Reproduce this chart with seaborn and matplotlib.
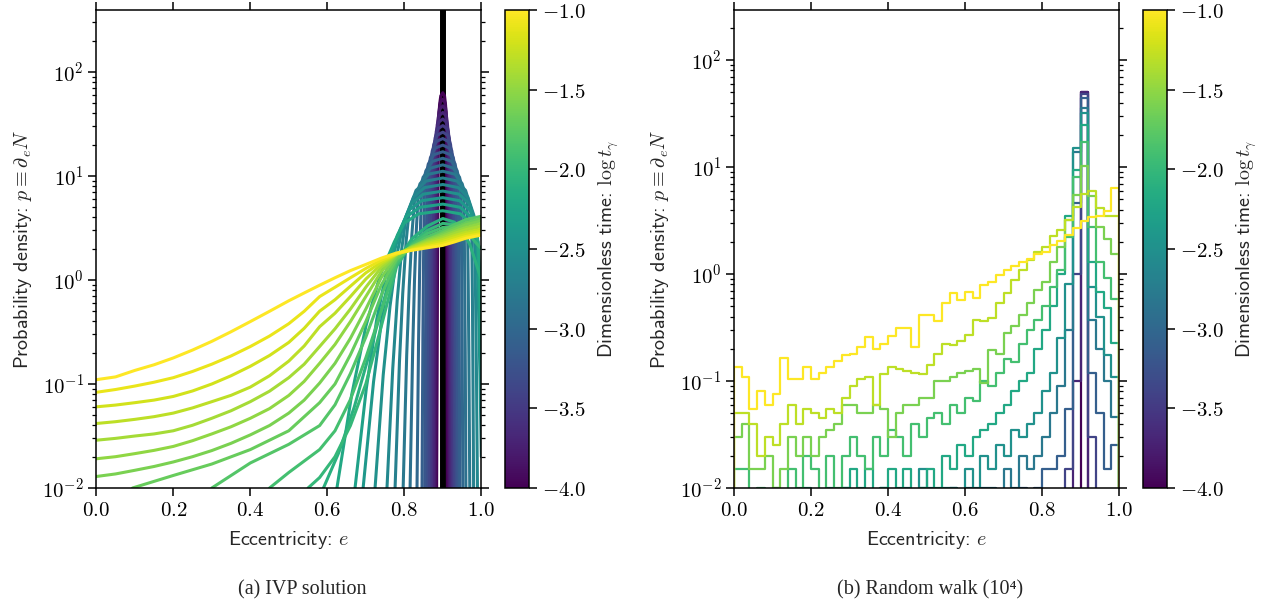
import numpy as np
import pandas as pd
import matplotlib
matplotlib.use("Agg")
import matplotlib.pyplot as plt
import seaborn as sns
from matplotlib.ticker import FuncFormatter, LogLocator, NullFormatter, FixedLocator, NullLocator
from matplotlib.colors import Normalize
from matplotlib.cm import ScalarMappable

# ---------------- data: (a) IVP solution, one curve per log t ----------------
IVP_LOGT = [-4.0, -3.9, -3.8, -3.7, -3.6, -3.5, -3.4, -3.3, -3.2, -3.1,
            -3.0, -2.9, -2.8, -2.7, -2.6, -2.5, -2.4, -2.3, -2.2, -2.1,
            -2.0, -1.9, -1.8, -1.7, -1.6, -1.5, -1.4, -1.3, -1.2, -1.1, -1.0]

LATE_E = [0.0, 0.05, 0.1, 0.15, 0.2, 0.25, 0.3, 0.35, 0.4, 0.45, 0.5, 0.54, 0.58, 0.62,
          0.66, 0.70, 0.74, 0.78, 0.82, 0.86, 0.9, 0.93, 0.96, 1.0]

IVP_E = [
    [0.884, 0.8862, 0.8873, 0.8883, 0.8894, 0.8915, 0.8947, 0.9, 0.9045, 0.9072, 0.909, 0.9096, 0.9102, 0.9108, 0.912],
    [0.881, 0.8835, 0.8847, 0.886, 0.8872, 0.8898, 0.8936, 0.9, 0.9055, 0.9087, 0.9109, 0.9117, 0.9125, 0.9133, 0.915],
    [0.878, 0.8807, 0.8821, 0.8834, 0.8848, 0.8878, 0.8924, 0.9, 0.9065, 0.9103, 0.9129, 0.9139, 0.915, 0.916, 0.918],
    [0.875, 0.8777, 0.8791, 0.8805, 0.8819, 0.8855, 0.891, 0.9, 0.9077, 0.9123, 0.9154, 0.9165, 0.9177, 0.9188, 0.921],
    [0.871, 0.8739, 0.8755, 0.8771, 0.8787, 0.883, 0.8894, 0.9, 0.9091, 0.9145, 0.9181, 0.9193, 0.9205, 0.9217, 0.924],
    [0.867, 0.87, 0.8716, 0.8733, 0.8749, 0.8799, 0.8875, 0.9, 0.9107, 0.917, 0.9213, 0.9225, 0.9237, 0.9249, 0.927],
    [0.863, 0.8657, 0.8673, 0.8688, 0.8704, 0.8763, 0.8852, 0.9, 0.9126, 0.9202, 0.9252, 0.9264, 0.9277, 0.9289, 0.931],
    [0.858, 0.8607, 0.8623, 0.864, 0.8656, 0.8725, 0.8828, 0.9, 0.9146, 0.9234, 0.9292, 0.9304, 0.9317, 0.9329, 0.935],
    [0.853, 0.8553, 0.8568, 0.8582, 0.8597, 0.8678, 0.8799, 0.9, 0.9172, 0.9274, 0.9343, 0.9353, 0.9363, 0.9373, 0.939],
    [0.846, 0.8483, 0.8498, 0.8513, 0.8528, 0.8622, 0.8764, 0.9, 0.92, 0.9321, 0.9401, 0.941, 0.9418, 0.9427, 0.944],
    [0.833, 0.837, 0.8397, 0.8423, 0.845, 0.856, 0.8725, 0.9, 0.9234, 0.9374, 0.9468, 0.948, 0.9491, 0.9503, 0.952],
    [0.815, 0.8218, 0.8265, 0.8313, 0.836, 0.8488, 0.868, 0.9, 0.9272, 0.9435, 0.9544, 0.9557, 0.9569, 0.9582, 0.96],
    [0.797, 0.8062, 0.8128, 0.8194, 0.826, 0.8408, 0.863, 0.9, 0.9315, 0.9503, 0.9629, 0.9645, 0.9661, 0.9677, 0.97],
    [0.776, 0.7874, 0.7959, 0.8045, 0.813, 0.8304, 0.8565, 0.9, 0.937, 0.9592, 0.974, 0.9754, 0.9768, 0.9781, 0.98],
    [0.755, 0.77, 0.7816, 0.7933, 0.805, 0.824, 0.8525, 0.9, 0.9405, 0.9648, 0.981, 0.9831, 0.9852, 0.9873, 0.99],
    [0.724, 0.7452, 0.7628, 0.7804, 0.798, 0.8184, 0.849, 0.9, 0.9425, 0.968, 0.985, 0.9888, 0.9927, 0.9965, 1.0],
    [0.693, 0.7201, 0.7434, 0.7667, 0.79, 0.812, 0.845, 0.9, 0.944, 0.9704, 0.988, 0.9916, 0.9951, 0.9987, 1.0],
    [0.672, 0.7014, 0.7283, 0.7552, 0.782, 0.8056, 0.841, 0.9, 0.945, 0.972, 0.99, 0.9938, 0.9975, 1.0],
    [0.625, 0.6633, 0.7002, 0.7371, 0.774, 0.7992, 0.837, 0.9, 0.946, 0.9736, 0.992, 0.996, 1.0],
    [0.59, 0.63, 0.67, 0.71, 0.75, 0.78, 0.82, 0.86, 0.9, 0.93, 0.95, 0.97, 0.985, 1.0],
    [0.55, 0.58, 0.62, 0.66, 0.70, 0.74, 0.78, 0.82, 0.86, 0.9, 0.93, 0.95, 0.97, 0.985, 1.0],
    [0.45, 0.5, 0.58, 0.62, 0.66, 0.70, 0.74, 0.78, 0.82, 0.86, 0.9, 0.93, 0.95, 0.97, 0.985, 1.0],
    [0.30, 0.4, 0.5, 0.58, 0.62, 0.66, 0.70, 0.74, 0.78, 0.82, 0.86, 0.9, 0.93, 0.96, 1.0],
    [0.094, 0.2, 0.3, 0.4, 0.5, 0.58, 0.62, 0.66, 0.70, 0.74, 0.78, 0.82, 0.86, 0.9, 0.93, 0.96, 1.0],
    LATE_E, LATE_E, LATE_E, LATE_E, LATE_E, LATE_E, LATE_E,
]

IVP_P = [
    [0.01, 1.07, 4.90, 15.1, 31.6, 47.9, 58.9, 63.1, 58.9, 47.9, 31.6, 15.1, 4.90, 1.07, 0.01],
    [0.01, 0.928, 4.24, 13.1, 27.4, 41.4, 50.9, 54.6, 50.9, 41.4, 27.4, 13.1, 4.24, 0.928, 0.01],
    [0.01, 0.802, 3.66, 11.3, 23.6, 35.8, 44.0, 47.2, 44.0, 35.8, 23.6, 11.3, 3.66, 0.802, 0.01],
    [0.01, 0.694, 3.17, 9.79, 20.4, 31.0, 38.1, 40.8, 38.1, 31.0, 20.4, 9.79, 3.17, 0.694, 0.01],
    [0.01, 0.600, 2.74, 8.47, 17.7, 26.8, 32.9, 35.3, 32.9, 26.8, 17.7, 8.47, 2.74, 0.600, 0.01],
    [0.01, 0.519, 2.37, 7.32, 15.3, 23.1, 28.5, 30.5, 28.5, 23.1, 15.3, 7.32, 2.37, 0.519, 0.01],
    [0.01, 0.449, 2.05, 6.34, 13.2, 20.0, 24.6, 26.4, 24.6, 20.0, 13.2, 6.34, 2.05, 0.449, 0.01],
    [0.01, 0.389, 1.78, 5.50, 11.5, 17.4, 21.4, 22.9, 21.4, 17.4, 11.5, 5.50, 1.78, 0.389, 0.01],
    [0.01, 0.337, 1.54, 4.75, 9.92, 15.0, 18.5, 19.8, 18.5, 15.0, 9.92, 4.75, 1.54, 0.337, 0.01],
    [0.01, 0.291, 1.33, 4.10, 8.57, 13.0, 16.0, 17.1, 16.0, 13.0, 8.57, 4.10, 1.33, 0.291, 0.01],
    [0.01, 0.252, 1.15, 3.55, 7.41, 11.2, 13.8, 14.8, 13.8, 11.2, 7.41, 3.55, 1.15, 0.252, 0.01],
    [0.01, 0.218, 0.993, 3.07, 6.41, 9.72, 11.9, 12.8, 11.9, 9.72, 6.41, 3.07, 0.993, 0.218, 0.01],
    [0.01, 0.189, 0.861, 2.66, 5.56, 8.42, 10.4, 11.1, 10.4, 8.42, 5.56, 2.66, 0.861, 0.189, 0.01],
    [0.01, 0.163, 0.743, 2.30, 4.79, 7.26, 8.93, 9.57, 8.93, 7.26, 4.79, 2.30, 0.743, 0.163, 0.01],
    [0.01, 0.141, 0.643, 1.99, 4.15, 6.28, 7.73, 8.28, 7.73, 6.28, 4.15, 1.99, 0.643, 0.141, 0.01],
    [0.01, 0.122, 0.556, 1.72, 3.59, 5.43, 6.68, 7.16, 6.68, 5.43, 3.59, 1.72, 0.556, 0.122, 0.02],
    [0.01, 0.105, 0.480, 1.49, 3.10, 4.70, 5.78, 6.19, 5.78, 4.70, 3.10, 1.49, 0.480, 0.105, 0.06],
    [0.01, 0.0911, 0.416, 1.29, 2.69, 4.07, 5.00, 5.36, 5.00, 4.07, 2.69, 1.29, 0.416, 0.15],
    [0.01, 0.0787, 0.359, 1.11, 2.32, 3.51, 4.32, 4.63, 4.32, 3.51, 2.32, 1.11, 0.35],
    [0.01, 0.022, 0.06, 0.2, 0.7, 1.5, 2.5, 3.3, 3.9, 3.6, 3.0, 2.2, 1.5, 1.0],
    [0.01, 0.0126, 0.02, 0.0398, 0.1, 0.355, 1.35, 2.3, 3.0, 3.5, 3.4, 3.1, 2.7, 2.3, 2.0],
    [0.01, 0.0141, 0.0234, 0.0355, 0.0708, 0.178, 0.501, 1.45, 2.2, 2.8, 3.2, 3.25, 3.2, 3.1, 3.05, 3.0],
    [0.01, 0.0174, 0.0263, 0.0398, 0.0631, 0.126, 0.282, 0.708, 1.55, 2.15, 2.6, 3.0, 3.4, 3.8, 4.1],
    [0.01, 0.0132, 0.017, 0.0234, 0.0355, 0.0661, 0.1, 0.191, 0.398, 0.891, 1.6, 2.05, 2.45, 2.85, 3.2, 3.55, 3.9],
    [0.0129, 0.01365, 0.0148, 0.0161, 0.0178, 0.020, 0.0229, 0.0269, 0.0324, 0.0399, 0.0525, 0.070,
     0.102, 0.158, 0.275, 0.525, 1.05, 1.70, 2.10, 2.45, 2.75, 3.05, 3.40, 3.70],
    [0.0191, 0.020, 0.0214, 0.023, 0.0251, 0.0285, 0.0331, 0.0388, 0.0468, 0.058, 0.0776, 0.106,
     0.158, 0.240, 0.398, 0.692, 1.20, 1.75, 2.08, 2.38, 2.65, 2.92, 3.20, 3.50],
    [0.0288, 0.030, 0.0316, 0.0331, 0.0355, 0.0401, 0.0468, 0.0553, 0.0676, 0.0853, 0.115, 0.155,
     0.229, 0.339, 0.525, 0.851, 1.32, 1.77, 2.05, 2.32, 2.55, 2.80, 3.05, 3.30],
    [0.0417, 0.0434, 0.0457, 0.0485, 0.0525, 0.0589, 0.0676, 0.0778, 0.0933, 0.120, 0.166, 0.232,
     0.355, 0.479, 0.692, 1.02, 1.41, 1.78, 2.02, 2.25, 2.45, 2.67, 2.88, 3.10],
    [0.0603, 0.0627, 0.0661, 0.070, 0.0759, 0.0857, 0.100, 0.120, 0.148, 0.188, 0.251, 0.343,
     0.501, 0.646, 0.871, 1.17, 1.48, 1.78, 1.98, 2.18, 2.35, 2.55, 2.75, 2.95],
    [0.0832, 0.0885, 0.0955, 0.104, 0.115, 0.132, 0.155, 0.186, 0.229, 0.289, 0.380, 0.500,
     0.692, 0.851, 1.05, 1.29, 1.55, 1.78, 1.95, 2.10, 2.25, 2.43, 2.62, 2.80],
    [0.110, 0.117, 0.135, 0.153, 0.178, 0.212, 0.257, 0.318, 0.398, 0.500, 0.631, 0.750,
     0.890, 1.05, 1.23, 1.41, 1.62, 1.82, 1.93, 2.04, 2.15, 2.32, 2.52, 2.70],
]

E_INITIAL = 0.9

# ---------------- data: (b) random walk histograms (density per bin of 0.02) ----------------
HIST_LOGT = [-4.0, -3.7, -3.4, -3.1, -2.8, -2.5, -2.2, -1.9, -1.6, -1.3, -1.0]

HIST_M40 = [0, 0, 0, 0, 0, 0, 0, 0, 0, 0,
            0, 0, 0, 0, 0, 0, 0, 0, 0, 0,
            0, 0, 0, 0, 0, 0, 0, 0, 0, 0,
            0, 0, 0, 0, 0, 0, 0, 0, 0, 0,
            0, 0, 0, 0, 0, 50.0, 0, 0, 0, 0]
HIST_M37 = [0, 0, 0, 0, 0, 0, 0, 0, 0, 0,
            0, 0, 0, 0, 0, 0, 0, 0, 0, 0,
            0, 0, 0, 0, 0, 0, 0, 0, 0, 0,
            0, 0, 0, 0, 0, 0, 0, 0, 0, 0,
            0, 0, 0, 0, 0.1, 49.8, 0, 0, 0, 0]
HIST_M34 = [0, 0, 0, 0, 0, 0, 0, 0, 0, 0,
            0, 0, 0, 0, 0, 0, 0, 0, 0, 0,
            0, 0, 0, 0, 0, 0, 0, 0, 0, 0,
            0, 0, 0, 0, 0, 0, 0, 0, 0, 0,
            0, 0, 0, 0.015, 1.0, 48.5, 0.03, 0, 0, 0]
HIST_M31 = [0, 0, 0, 0, 0, 0, 0, 0, 0, 0,
            0, 0, 0, 0, 0, 0, 0, 0, 0, 0,
            0, 0, 0, 0, 0, 0, 0, 0, 0, 0,
            0, 0, 0, 0, 0, 0, 0, 0.01, 0, 0.01,
            0.015, 0.015, 0.02, 0.055, 4.6, 44.5, 0.12, 0.05, 0.015, 0.025]
HIST_M28 = [0, 0, 0, 0, 0, 0, 0, 0, 0, 0,
            0, 0, 0, 0, 0, 0, 0, 0, 0, 0,
            0, 0, 0, 0, 0.01, 0, 0, 0, 0.01, 0,
            0.01, 0, 0.01, 0.01, 0, 0.015, 0.01, 0.02, 0.015, 0.02,
            0.03, 0.05, 0.09, 0.3, 13.8, 35.5, 0.37, 0.2, 0.1, 0.046]
HIST_M25 = [0, 0, 0, 0, 0, 0, 0, 0, 0, 0,
            0, 0, 0, 0, 0.01, 0, 0, 0, 0, 0.01,
            0, 0, 0.01, 0, 0.015, 0.01, 0, 0.01, 0.01, 0,
            0.015, 0.01, 0.02, 0.015, 0.025, 0.02, 0.035, 0.03, 0.04, 0.05,
            0.08, 0.12, 0.25, 0.8, 15.0, 32.0, 0.75, 0.4, 0.175, 0.109]
HIST_M22 = [0, 0, 0, 0, 0, 0, 0, 0, 0, 0.01,
            0, 0, 0.01, 0, 0.01, 0.015, 0.01, 0.015, 0, 0.01,
            0.015, 0.01, 0.015, 0, 0.01, 0.015, 0.01, 0.02, 0.015, 0.025,
            0.02, 0.03, 0.035, 0.04, 0.05, 0.06, 0.08, 0.1, 0.12, 0.2,
            0.3, 0.5, 1.0, 3.5, 9.3, 24.7, 1.3, 0.68, 0.48, 0.226]
HIST_M19 = [0.015, 0.015, 0, 0.01, 0, 0.01, 0, 0.015, 0.01, 0.02,
            0.015, 0, 0.02, 0.01, 0.02, 0.03, 0.02, 0.015, 0.03, 0.02,
            0.035, 0.03, 0.02, 0.04, 0.03, 0.045, 0.05, 0.04, 0.06, 0.05,
            0.07, 0.065, 0.1, 0.09, 0.12, 0.16, 0.15, 0.22, 0.3, 0.37,
            0.5, 0.75, 1.1, 2.2, 8.0, 17.0, 2.75, 1.3, 0.91, 0.58]
HIST_M16 = [0.03, 0.04, 0.015, 0.015, 0.02, 0.01, 0.015, 0.03, 0.02, 0.03,
            0.02, 0.03, 0.035, 0.04, 0.06, 0.06, 0.05, 0.05, 0.06, 0.055,
            0.03, 0.05, 0.06, 0.06, 0.07, 0.07, 0.1, 0.1, 0.11, 0.12,
            0.125, 0.13, 0.095, 0.195, 0.18, 0.28, 0.33, 0.41, 0.53, 0.71,
            0.85, 1.3, 1.8, 3.2, 5.5, 10.3, 5.3, 2.75, 2.1, 1.55]
HIST_M13 = [0.05, 0.05, 0.04, 0.02, 0.03, 0.025, 0.04, 0.06, 0.04, 0.055,
            0.05, 0.045, 0.055, 0.05, 0.07, 0.09, 0.105, 0.11, 0.06, 0.115,
            0.135, 0.13, 0.125, 0.12, 0.115, 0.14, 0.18, 0.22, 0.215, 0.235,
            0.27, 0.37, 0.36, 0.385, 0.53, 0.66, 0.88, 1.09, 1.35, 1.6,
            1.8, 2.25, 2.6, 3.2, 4.25, 5.65, 5.9, 4.1, 3.45, 3.45]
HIST_M10 = [0.135, 0.11, 0.055, 0.08, 0.06, 0.075, 0.165, 0.105, 0.105, 0.135,
            0.105, 0.12, 0.135, 0.155, 0.175, 0.18, 0.21, 0.255, 0.2, 0.22,
            0.265, 0.31, 0.31, 0.21, 0.41, 0.41, 0.365, 0.53, 0.67, 0.57,
            0.68, 0.6, 0.79, 0.85, 0.98, 1.1, 1.2, 1.3, 1.38, 1.55,
            1.6, 1.86, 2.05, 2.3, 2.7, 3.1, 3.4, 3.5, 3.9, 6.3]

HIST_SERIES = [HIST_M40, HIST_M37, HIST_M34, HIST_M31, HIST_M28, HIST_M25,
               HIST_M22, HIST_M19, HIST_M16, HIST_M13, HIST_M10]

BIN_EDGES = np.linspace(0.0, 1.0, 51)

# ---------------- style ----------------
sns.set_style("ticks")
plt.rcParams.update({
    "mathtext.fontset": "cm",
    "font.family": ["DejaVu Sans"],
    "axes.linewidth": 1.1,
    "xtick.direction": "out",
    "ytick.direction": "out",
    "xtick.major.size": 5.5,
    "ytick.major.size": 5.5,
    "xtick.minor.size": 3.0,
    "ytick.minor.size": 3.0,
    "xtick.major.width": 1.1,
    "ytick.major.width": 1.1,
    "xtick.minor.width": 0.9,
    "ytick.minor.width": 0.9,
    "axes.edgecolor": "black",
    "xtick.color": "black",
    "ytick.color": "black",
})

TICK_FS = 15
LABEL_FS = 14.5
CAP_FS = 14.5
LABEL_FAMILY = ["cmss10", "DejaVu Sans"]

cmap = plt.get_cmap("viridis")
norm = Normalize(vmin=-4.0, vmax=-1.0)

fig = plt.figure(figsize=(12.66, 6.05), dpi=100)
ax_a = fig.add_axes([0.07607, 0.19339, 0.30411, 0.79008])
cax_a = fig.add_axes([0.39889, 0.19339, 0.01935, 0.79008])
ax_b = fig.add_axes([0.57978, 0.19339, 0.30411, 0.79008])
cax_b = fig.add_axes([0.90284, 0.19339, 0.01935, 0.79008])

# panel (a)
ax_a.axvline(E_INITIAL, color="black", lw=4.3, zorder=1)
for t, e_vals, p_vals in zip(IVP_LOGT, IVP_E, IVP_P):
    df_curve = pd.DataFrame({"e": e_vals, "p": p_vals})
    sns.lineplot(data=df_curve, x="e", y="p", color=cmap(norm(t)), linewidth=2.2,
                 estimator=None, sort=False, ax=ax_a, zorder=2)

# panel (b)
centers = 0.5 * (BIN_EDGES[:-1] + BIN_EDGES[1:])
edges_ext = [-0.02] + [float(v) for v in BIN_EDGES] + [1.02]
x_ext = np.concatenate([[-0.01], centers, [1.01]])
for t, dens in zip(HIST_LOGT, HIST_SERIES):
    w = np.concatenate([[0.0], np.asarray(dens, dtype=float), [0.0]])
    df_hist = pd.DataFrame({"e": x_ext, "w": w})
    sns.histplot(data=df_hist, x="e", weights="w", bins=edges_ext, element="step",
                 fill=False, color=cmap(norm(t)), linewidth=1.6, ax=ax_b)

x_fmt = FuncFormatter(lambda v, pos: r"$\mathrm{%.1f}$" % v)
log_fmt = FuncFormatter(lambda v, pos: r"$\mathrm{10^{%d}}$" % int(np.round(np.log10(v))))

for ax, ytop in ((ax_a, 3.94e2), (ax_b, 2.93e2)):
    ax.set_yscale("log")
    ax.set_xlim(0.0, 1.0)
    ax.set_ylim(1e-2, ytop)
    ax.xaxis.set_major_locator(FixedLocator([0.0, 0.2, 0.4, 0.6, 0.8, 1.0]))
    ax.xaxis.set_minor_locator(NullLocator())
    ax.xaxis.set_major_formatter(x_fmt)
    ax.yaxis.set_major_locator(LogLocator(base=10, numticks=12))
    ax.yaxis.set_minor_locator(LogLocator(base=10, subs=np.arange(2, 10), numticks=12))
    ax.yaxis.set_major_formatter(log_fmt)
    ax.yaxis.set_minor_formatter(NullFormatter())
    ax.tick_params(which="both", top=True, right=True, labelsize=TICK_FS)
    ax.set_xlabel(r"Eccentricity: $e$", fontsize=LABEL_FS, labelpad=6, family=LABEL_FAMILY)
    ax.set_ylabel(r"Probability density: $p \equiv \partial_e N$",
                  fontsize=LABEL_FS, labelpad=6, family=LABEL_FAMILY)
    for s in ax.spines.values():
        s.set_linewidth(1.1)

cb_fmt = FuncFormatter(lambda v, pos: r"$\mathrm{%.1f}$" % v)
for cax in (cax_a, cax_b):
    sm = ScalarMappable(norm=norm, cmap=cmap)
    cb = fig.colorbar(sm, cax=cax)
    cb.set_ticks([-4.0, -3.5, -3.0, -2.5, -2.0, -1.5, -1.0])
    cb.ax.yaxis.set_major_formatter(cb_fmt)
    cb.ax.minorticks_off()
    cb.ax.tick_params(direction="out", length=5.5, width=1.1, labelsize=TICK_FS)
    cb.outline.set_linewidth(1.1)
    cb.set_label(r"Dimensionless time: $\log t_\gamma$", fontsize=LABEL_FS, labelpad=8,
                 family=LABEL_FAMILY)

fig.text(0.2385, 0.025, "(a) IVP solution", ha="center", va="center",
         family=["Liberation Serif", "DejaVu Serif"], fontsize=CAP_FS)
fig.text(0.7346, 0.025, "(b) Random walk (10\u2074)", ha="center", va="center",
         family=["Liberation Serif", "DejaVu Serif"], fontsize=CAP_FS)

fig.savefig("out.png", dpi=100)
